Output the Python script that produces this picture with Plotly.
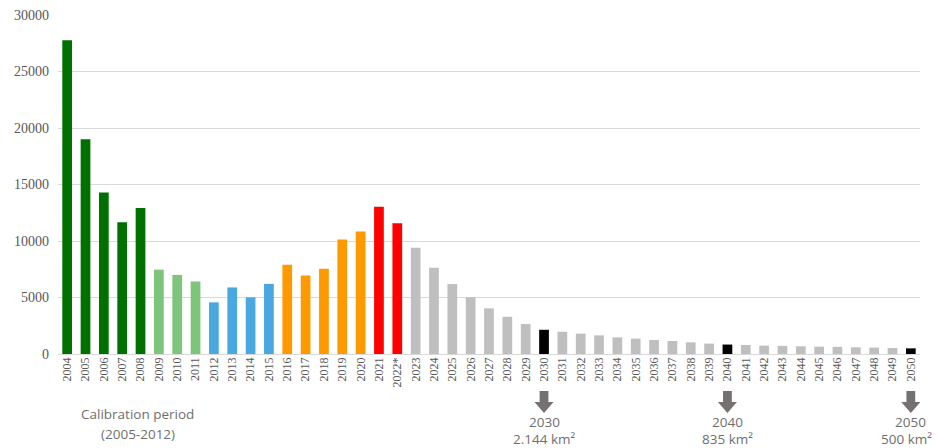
import plotly.graph_objects as go

years = [str(y) for y in range(2004, 2051)]
years[18] = "2022*"
values = [27772, 19014, 14286, 11651, 12911, 7464, 7000, 6418, 4571, 5891, 5012, 6207,
          7893, 6947, 7536, 10129, 10851, 13038, 11568,
          9410, 7640, 6190, 5020, 4040, 3300, 2650, 2144,
          1970, 1800, 1650, 1470, 1360, 1240, 1150, 1030, 920, 835,
          800, 740, 720, 680, 650, 630, 590, 570, 530, 500]

DG, LG, BL, OR, RD, GR, BK = "#007000", "#7dc57a", "#4aa8e0", "#ff9900", "#ff0000", "#bfbfbf", "#000000"
colors = [DG]*5 + [LG]*3 + [BL]*4 + [OR]*5 + [RD]*2 + [GR]*7 + [BK] + [GR]*9 + [BK] + [GR]*9 + [BK]

milestones = [("2030", "2.144 km²"), ("2040", "835 km²"), ("2050", "500 km²")]
calib_text = ["Calibration period", "(2005-2012)"]

idx = list(range(len(years)))
fig = go.Figure(go.Bar(x=idx, y=values, marker=dict(color=colors, line=dict(width=0)), width=0.53))

SERIF = "Liberation Serif"
fig.update_layout(
    width=938, height=448,
    font=dict(family=SERIF, color="#595959"),
    margin=dict(l=58, r=18, t=15, b=94, autoexpand=False),
    plot_bgcolor="white", paper_bgcolor="white",
    showlegend=False,
    xaxis=dict(range=[-0.5, len(years) - 0.5], tickmode="array", tickvals=idx, ticktext=years,
               tickangle=-90, tickfont=dict(family=SERIF, size=12, color="#595959"),
               showgrid=False, zeroline=False, showline=False, ticks="", automargin=False),
    yaxis=dict(range=[0, 30000], dtick=5000, tickformat="d",
               tickfont=dict(family=SERIF, size=14, color="#595959"),
               gridcolor="#d9d9d9", gridwidth=1, zeroline=True, zerolinecolor="#d9d9d9",
               zerolinewidth=1, showline=False, ticks="", ticklabelstandoff=8, automargin=False),
)

def ppx(p):
    return (354 - p) / 339.0

afont = dict(family="Open Sans", size=13.5, color="#6f6f6f")
fig.add_annotation(x=3.86, y=ppx(414), xref="x", yref="paper", yanchor="middle",
                   text=calib_text[0], showarrow=False, font=afont)
fig.add_annotation(x=3.86, y=ppx(434), xref="x", yref="paper", yanchor="middle",
                   text=calib_text[1], showarrow=False, font=afont)

for lab, val in milestones:
    i = years.index(lab)
    tx = min(i, 45.75)
    fig.add_annotation(x=i, y=ppx(422), xref="x", yref="paper", yanchor="middle",
                       text=lab, showarrow=False, font=afont)
    fig.add_annotation(x=tx, y=ppx(439), xref="x", yref="paper", yanchor="middle",
                       text=val, showarrow=False, font=afont)
    sw, hw = 0.24, 0.52
    y0, y1, y2 = ppx(391), ppx(402), ppx(413)
    path = (f"M {i-sw} {y0} L {i+sw} {y0} L {i+sw} {y1} L {i+hw} {y1} L {i} {y2} "
            f"L {i-hw} {y1} L {i-sw} {y1} Z")
    fig.add_shape(type="path", path=path, xref="x", yref="paper",
                  fillcolor="#767171", line=dict(width=0))

fig.write_html("out.html", post_script="document.body.style.margin='0';",
               config={"displayModeBar": False})
